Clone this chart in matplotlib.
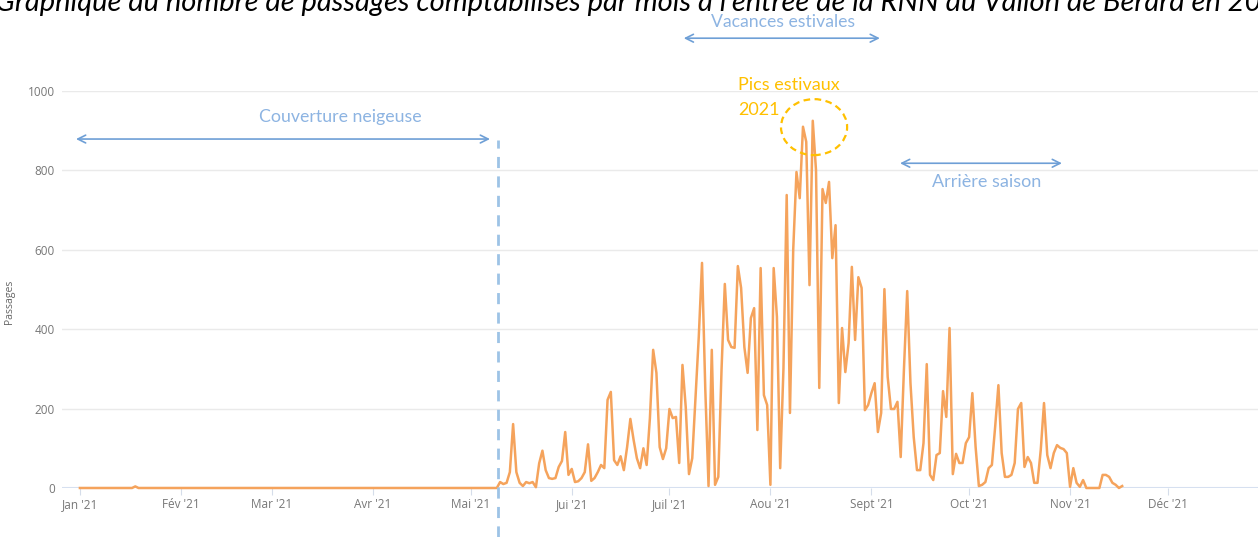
import matplotlib.pyplot as plt
import matplotlib.dates as mdates
from matplotlib.patches import Ellipse
import pandas as pd

# ---- daily counts, Jan 1st to Nov 17th 2021
winter = [0] * 17 + [4] + [0] * 111
season = [15, 10, 13, 40, 161, 40, 13, 5, 15, 12, 15, 2, 62, 94, 45, 25, 23, 25, 53, 68,
          141, 33, 48, 15, 17, 25, 40, 110, 18, 25,
          40, 58, 50, 222, 242, 70, 58, 80, 45, 103, 174, 121, 75, 50, 100, 58, 176, 348, 290, 103,
          73, 100, 199, 176, 179, 63, 310, 204, 35, 75, 229, 380, 567,
          250, 5, 348, 8, 28, 300, 514, 373, 355, 353, 559, 504, 355, 290, 428, 453, 146, 554, 234,
          209, 8, 554, 431, 50,
          300, 738, 189, 600, 796, 730, 910, 872, 511, 925, 800, 252, 753, 718, 771, 579, 662, 214,
          403, 292, 365, 557, 373, 531, 504, 196, 209, 239, 264, 141, 189,
          501, 280, 199, 199, 217, 78, 300, 496, 264, 128, 45, 45, 113, 312, 33, 20, 83, 88, 244, 179,
          403, 35, 86, 63, 63, 113, 128, 239, 103, 5, 8, 15, 50, 58, 154, 259, 88, 28, 28, 33, 63,
          199, 214, 53, 78, 63, 13, 13, 96, 214, 83, 50, 88, 108, 101, 98, 88, 3, 50, 13, 3, 20,
          0, 0, 0, 0, 0, 33, 33, 28, 13, 8, 0, 5]
passages = winter + season
dates = pd.date_range("2021-01-01", periods=len(passages), freq="D")

month_starts = pd.date_range("2021-01-01", "2021-12-01", freq="MS")
month_labels = ["Jan '21", "Fév '21", "Mar '21", "Avr '21", "Mai '21", "Jui '21",
                "Juil '21", "Aou '21", "Sept '21", "Oct '21", "Nov '21", "Déc '21"]
y_ticks = [0, 200, 400, 600, 800, 1000]

line_color = '#F5A35C'
note_blue = '#8DB4E2'
arrow_blue = '#6E9FD6'
gold = '#FFC000'

def day(n):
        return mdates.date2num(pd.Timestamp("2021-01-01") + pd.Timedelta(days=n))

fig = plt.figure(figsize=(12.58, 5.37), dpi=100)
ax = fig.add_axes([62 / 1258, 49 / 537, 1 - 62 / 1258, 397 / 537])

ax.plot(dates, passages, color=line_color, linewidth=1.8, clip_on=False, zorder=3)

ax.set_ylim(0, 1000)
ax.set_xlim(day(-5.5), day(361.7))
ax.set_yticks(y_ticks)
ax.set_yticklabels([str(v) for v in y_ticks])
ax.set_xticks(mdates.date2num(month_starts))
ax.set_xticklabels(month_labels)
ax.tick_params(axis='y', length=0, pad=5, labelsize=8.5, labelcolor='#777777')
ax.tick_params(axis='x', length=5, color='#D5DDEA', pad=2, labelsize=8.5, labelcolor='#777777')
for lab in ax.get_xticklabels() + ax.get_yticklabels():
        lab.set_family('Open Sans')
for s in ax.spines.values():
        s.set_visible(False)
ax.grid(axis='y', color='#EAEAEA', linewidth=1)
ax.axhline(0, color='#D6E0F0', linewidth=1.5, zorder=2)
ax.set_ylabel("Passages", fontsize=7.5, color='#666666', family='Open Sans')
ax.yaxis.set_label_coords((15 - 62) / 1196, 0.47)

# ---- snow cover limit
ax.plot([day(128.3), day(128.3)], [-123, 876], color='#9DC3E6', linestyle=(0, (4, 3)),
        linewidth=2, clip_on=False, zorder=4)

# ---- annotations
def double_arrow(x0, x1, y):
        ax.annotate('', xy=(day(x1), y), xytext=(day(x0), y), annotation_clip=False,
                    arrowprops=dict(arrowstyle='<->', color=arrow_blue, lw=1.2,
                                    shrinkA=0, shrinkB=0, mutation_scale=14))

double_arrow(-1.2, 125.9, 879)
ax.text(day(79.8), 934, "Couverture neigeuse", color=note_blue, fontsize=12.8, family='Lato',
        ha='center', va='center')
double_arrow(185.4, 245.6, 1133)
ax.text(day(215.8), 1175, "Vacances estivales", color=note_blue, fontsize=12.7, family='Lato',
        ha='center', va='center', clip_on=False)
double_arrow(251.8, 301.5, 818)
ax.text(day(278.5), 771, "Arrière saison", color=note_blue, fontsize=13, family='Lato',
        ha='center', va='center')

ax.text(day(202), 1015, "Pics estivaux", color=gold, fontsize=13, family='Lato',
        ha='left', va='center', clip_on=False)
ax.text(day(202), 952, "2021", color=gold, fontsize=13, family='Lato',
        ha='left', va='center')
ax.add_patch(Ellipse((day(225.4), 909), 20.3, 141, fill=False, edgecolor=gold,
                     linestyle=(0, (3, 2)), linewidth=1.6, zorder=5))

fig.text(-0.004, 1 - 11 / 537, "Graphique du nombre de passages comptabilisés par mois à l'entrée "
         "de la RNN du Vallon de Bérard en 2021", fontsize=21.0, style='italic', family='Lato',
         color='black', ha='left', va='baseline')

plt.savefig("out.png", dpi=100)
